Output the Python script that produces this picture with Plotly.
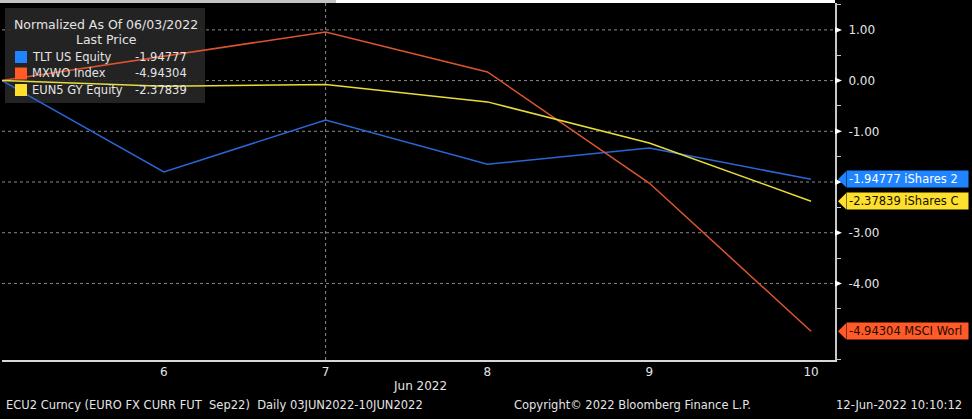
import plotly.graph_objects as go

# ---- data ----
dates = ["2022-06-03", "2022-06-06", "2022-06-07", "2022-06-08", "2022-06-09", "2022-06-10"]
x_tick_labels = ["", "6", "7", "8", "9", "10"]
tlt = [0.0, -1.80, -0.78, -1.65, -1.33, -1.94777]
mxwo = [0.0, 0.48, 0.96, 0.17, -2.02, -4.94304]
eun5 = [0.0, -0.11, -0.075, -0.42, -1.23, -2.37839]
series_names = ["TLT US Equity", "MXWO Index", "EUN5 GY Equity"]
tag_names = ["iShares 2", "MSCI Worl", "iShares C"]
y_tick_vals = [1, 0, -1, -2, -3, -4]
y_tick_labels = ["1.00", "0.00", "-1.00", "", "-3.00", "-4.00"]  # -2.00 hidden behind tag
y_minor_vals = [1.5, 0.5, -0.5, -1.5, -2.5, -3.5, -4.5, -5.5]

# ---- styles ----
W, H = 972, 419
ML, MR, MT, MB = 2, 137, 3, 59
PW, PH = W - ML - MR, H - MT - MB
YR = [-5.51, 1.53]
XR = [0, 5.148]
FONT = "DejaVu Sans"
TXT = "#e4e4e4"
line_colors = ["#2a66d6", "#dc5530", "#e6dc3c"]
box_colors = ["#1e84ff", "#ff5a28", "#ffdf2e"]
box_text = ["#ffffff", "#1a0a00", "#111100"]
vals = [tlt, mxwo, eun5]
xi = list(range(len(dates)))


def px_x(p):
    return (p - ML) / PW


def px_y(p):
    return (H - MB - p) / PH


ypu = (YR[1] - YR[0]) / PH  # y units per pixel

fig = go.Figure()
for name, v, c in zip(series_names, vals, line_colors):
    fig.add_trace(go.Scatter(x=xi, y=v, mode="lines", name=name,
                             line=dict(color=c, width=1.5), hoverinfo="skip"))

shapes = []
annotations = []

# top strip
shapes.append(dict(type="rect", xref="paper", yref="paper", x0=px_x(0), x1=px_x(336),
                   y0=px_y(3), y1=px_y(0), fillcolor="#c4c4c4", line_width=0, layer="above"))
shapes.append(dict(type="rect", xref="paper", yref="paper", x0=px_x(336), x1=1.0,
                   y0=px_y(3), y1=px_y(0), fillcolor="#ffffff", line_width=0, layer="above"))

# horizontal dotted grid lines
for v in y_tick_vals:
    shapes.append(dict(type="line", xref="paper", yref="y", x0=0, x1=1, y0=v, y1=v,
                       line=dict(color="#8a8a8a", width=1, dash="dot"), layer="below"))
# vertical dotted grid at Jun 7
shapes.append(dict(type="line", xref="x", yref="paper", x0=2, x1=2, y0=0, y1=1,
                   line=dict(color="#8a8a8a", width=1, dash="dot"), layer="below"))

# legend box
shapes.append(dict(type="rect", xref="paper", yref="paper", x0=px_x(5), x1=px_x(205),
                   y0=px_y(103), y1=px_y(8), fillcolor="rgba(38,38,38,0.92)",
                   line_width=0, layer="between"))
annotations.append(dict(xref="paper", yref="paper", x=px_x(106), y=px_y(24),
                        text="Normalized As Of 06/03/2022", showarrow=False,
                        xanchor="center", yanchor="middle",
                        font=dict(family=FONT, size=12.5, color=TXT)))
annotations.append(dict(xref="paper", yref="paper", x=px_x(106), y=px_y(40),
                        text="Last Price", showarrow=False,
                        xanchor="center", yanchor="middle",
                        font=dict(family=FONT, size=12.5, color=TXT)))
for i, (name, v, bc) in enumerate(zip(series_names, vals, box_colors)):
    cy = 57 + i * 16.5
    shapes.append(dict(type="rect", xref="paper", yref="paper", x0=px_x(15), x1=px_x(27),
                       y0=px_y(cy + 6), y1=px_y(cy - 6), fillcolor=bc, line_width=0,
                       layer="above"))
    annotations.append(dict(xref="paper", yref="paper", x=px_x(30), y=px_y(cy),
                            text=name, showarrow=False, xanchor="left", yanchor="middle",
                            font=dict(family=FONT, size=11.5, color=TXT)))
    annotations.append(dict(xref="paper", yref="paper", x=px_x(189), y=px_y(cy),
                            text=f"{v[-1]:.5f}", showarrow=False, xanchor="right",
                            yanchor="middle",
                            font=dict(family=FONT, size=11.5, color=TXT)))

# y tick triangles
for v in y_tick_vals:
    shapes.append(dict(type="path", xref="paper", yref="y",
                       path=f"M {px_x(835)},{v + 3 * ypu} L {px_x(842)},{v} L {px_x(835)},{v - 3 * ypu} Z",
                       fillcolor="#ffffff", line_width=0, layer="above"))

# last value tags
for v, tn, bc, tc in zip(vals, tag_names, box_colors, box_text):
    last = v[-1]
    shapes.append(dict(type="path", xref="paper", yref="y",
                       path=f"M {px_x(838)},{last} L {px_x(846)},{last + 8 * ypu} L {px_x(846)},{last - 8 * ypu} Z",
                       fillcolor=bc, line_width=0, layer="above"))
    annotations.append(dict(xref="paper", yref="y", x=px_x(845.5), y=last,
                            text=f"{last:.5f} {tn}", showarrow=False,
                            xanchor="left", yanchor="middle", align="left",
                            width=117, height=12, borderpad=2, bgcolor=bc,
                            font=dict(family=FONT, size=11.5, color=tc)))

# footer texts
annotations.append(dict(xref="paper", yref="paper", x=px_x(420), y=px_y(386),
                        text="Jun 2022", showarrow=False, xanchor="center", yanchor="middle",
                        font=dict(family=FONT, size=12, color=TXT)))
annotations.append(dict(xref="paper", yref="paper", x=px_x(4), y=px_y(405),
                        text="ECU2 Curncy (EURO FX CURR FUT&nbsp;&nbsp;Sep22)&nbsp;&nbsp;Daily 03JUN2022-10JUN2022",
                        showarrow=False, xanchor="left", yanchor="middle",
                        font=dict(family=FONT, size=11.5, color=TXT)))
annotations.append(dict(xref="paper", yref="paper", x=px_x(512), y=px_y(405),
                        text="Copyright© 2022 Bloomberg Finance L.P.",
                        showarrow=False, xanchor="left", yanchor="middle",
                        font=dict(family=FONT, size=11.5, color=TXT)))
annotations.append(dict(xref="paper", yref="paper", x=px_x(964), y=px_y(405),
                        text="12-Jun-2022 10:10:12",
                        showarrow=False, xanchor="right", yanchor="middle",
                        font=dict(family=FONT, size=11.5, color=TXT)))

fig.update_layout(
    width=W, height=H,
    margin=dict(l=ML, r=MR, t=MT, b=MB, pad=0),
    paper_bgcolor="#000000", plot_bgcolor="#000000",
    showlegend=False,
    shapes=shapes, annotations=annotations,
    xaxis=dict(range=XR, tickvals=xi, ticktext=x_tick_labels, showgrid=False,
               zeroline=False, showline=True, linecolor="#d8d8d8", linewidth=1.5,
               ticks="", tickfont=dict(family=FONT, size=12, color=TXT)),
    yaxis=dict(range=YR, side="right", tickvals=y_tick_vals,
               ticktext=y_tick_labels, showgrid=False,
               zeroline=False, showline=True, linecolor="#c8c8c8", linewidth=2,
               ticks="", ticklabelstandoff=9,
               tickfont=dict(family=FONT, size=12, color=TXT),
               minor=dict(tickvals=y_minor_vals, ticks="outside", ticklen=4,
                          tickcolor="#c8c8c8", tickwidth=1)),
)

fig.write_html("out.html", config={"displayModeBar": False},
               post_script="document.body.style.margin='0';document.body.style.background='#000';")
